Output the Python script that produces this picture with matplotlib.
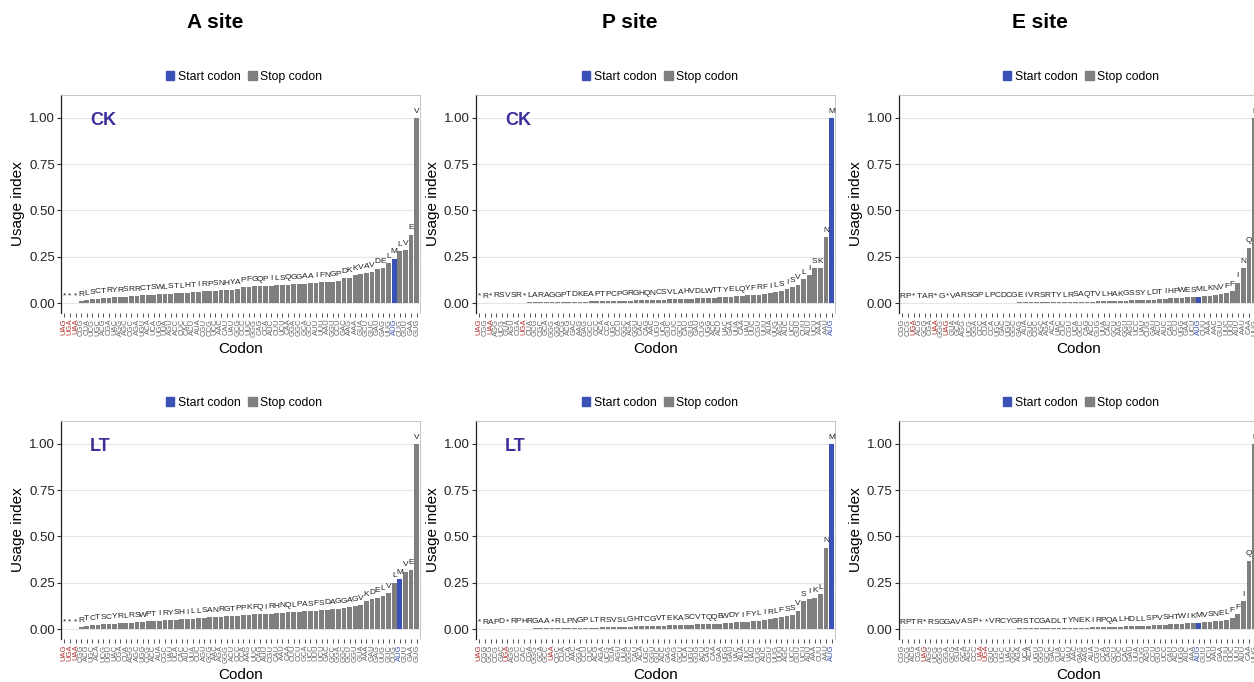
import matplotlib
matplotlib.use("Agg")
import matplotlib.pyplot as plt
from matplotlib.patches import Patch

plt.rcParams['font.family'] = ['Liberation Sans', 'DejaVu Sans']

# ---- data: amino acid, codon and usage index for each panel (sorted as in the figure)
aa_a_ck = list("***RLSCTRYRSRRCTSWLSTLHTIRPSNHYAPFGQPILSQGGAAIFNGPDKKVAVDELMLVEV")
codon_a_ck = ["UAG", "UGA", "UAA", "CGG", "CUA", "UCG", "UGC", "ACG", "CGA", "UAC", "AGG", "AGC", "CGC", "AGA", "UGU", "ACA",
              "UCA", "UGG", "UUA", "AGU", "ACC", "CUC", "CAC", "ACU", "AUA", "CGU", "CCG", "UCC", "AAC", "CAU", "UAU", "GCG",
              "CCC", "UUC", "GGG", "CAG", "CCA", "AUC", "CUU", "UCU", "CAA", "GGA", "GGC", "GCA", "GCC", "AUU", "UUU", "AAU",
              "GGU", "CCU", "GAC", "AAG", "AAA", "GUA", "GCU", "GUC", "GAU", "GAG", "UUG", "AUG", "CUG", "GUU", "GAA", "GUG"]
usage_a_ck = [0, 0, 0,
              .010, .016, .020, .023, .026, .029, .031, .033, .035, .037, .039, .041, .043, .045, .047, .049, .051,
              .053, .055, .057, .059, .061, .063, .065, .067, .069, .071, .073, .076,
              .086, .088, .090, .091, .092, .094, .096, .098, .100, .101, .102, .104, .106, .110, .112, .114, .116,
              .118, .135, .138, .150, .155, .160, .168, .185, .190,
              .215, .240, .280, .285, .370, 1.0]

aa_p_ck = list("*R*RSVSR*LARAGGPTDKEAPTPCPGRGHQNCSVLAHVDLWTTYELQYFRFILSISVLISKNM")
codon_p_ck = ["UAG", "CGG", "UAA", "AGG", "UCG", "GUA", "AGU", "CGA", "UGA", "CUA", "GCG", "CGC", "GCA", "GGG", "GGA", "CCG",
              "ACG", "GAC", "AAG", "GAG", "GCC", "CCC", "ACA", "CCA", "UGC", "CCU", "GGC", "AGA", "GGU", "CAC", "CAG", "AAC",
              "UGU", "UCA", "GUC", "CUC", "GCU", "CAU", "GUG", "GAU", "CUG", "UGG", "ACC", "ACU", "UAC", "GAA", "UUA", "CAA",
              "UAU", "UUC", "CGU", "UUU", "AUA", "UUG", "AGC", "AUC", "UCC", "GUU", "CUU", "AUU", "UCU", "AAA", "AAU", "AUG"]
usage_p_ck = [0, .001, .001, .002, .002, .002, .002, .003, .003,
              .004, .004, .005, .005, .005, .006, .006, .007, .007, .008, .008, .009, .009, .010, .010, .011,
              .012, .013, .013, .014, .015, .016, .017, .018, .019, .020, .021, .022, .023, .024, .025,
              .027, .028, .030, .031, .033, .035, .037, .039, .041, .043, .046, .049,
              .055, .060, .065, .075, .085, .100, .130, .150, .190, .190,
              .355, 1.0]

aa_e_ck = list("RP*TAR*G*VARSGPLPCDCGEIVRSRTYLRSAQTVLHAKGSSYLDTIHPWESMLKNVFFINQL")
codon_e_ck = ["CGG", "CCG", "UGA", "ACG", "GCG", "CGA", "UAA", "GGG", "UAG", "GUA", "GCA", "AGG", "UCG", "GGA", "CCC", "CUA",
              "CCA", "UGC", "GAC", "UGU", "GGC", "GAG", "AUA", "GUC", "CGC", "AGC", "AGA", "ACA", "UAC", "CUC", "CGU", "UCA",
              "GCC", "CAG", "ACC", "GUG", "UUA", "CAC", "GCU", "AAG", "GGU", "AGU", "UCC", "UAU", "CUG", "GAU", "ACU", "AUC",
              "CAU", "CCU", "UGG", "GAA", "UCU", "AUG", "CUU", "AAA", "AAC", "GUU", "UUC", "UUU", "AUU", "AAU", "CAA", "UUG"]
usage_e_ck = [0, 0, 0, .001, .001, .001, .001, .001, .001, .001, .002, .002, .002, .002, .002, .002, .003, .003, .003, .003,
              .003, .004, .004, .004, .004, .005, .005, .005, .006, .006,
              .006, .007, .007, .008, .008, .009, .009, .010, .011, .012, .013, .014, .015, .016, .017,
              .019, .021, .023, .025, .027, .029, .031, .033,
              .035, .038, .040, .043, .047, .055, .065, .110, .190, .300, 1.0]

aa_a_lt = list("***RTCTSCYRLRSWPTIRYSHILLSANRGTPPKFQIRHNQLPASFSDAGGAGVKDELVLMVEV")
codon_a_lt = ["UAG", "UGA", "UAA", "CGG", "ACG", "UGC", "ACA", "UCG", "UGU", "UAC", "CGA", "CUA", "AGG", "AGC", "UGG", "CCG",
              "ACC", "AUA", "CGC", "UAU", "UCA", "CAC", "AUC", "UUA", "CUC", "AGU", "GCG", "AAC", "AGA", "GGG", "ACU", "CCC",
              "CCA", "AAG", "UUC", "CAG", "AUU", "CGU", "CAU", "AAU", "CAA", "CUU", "CCU", "GCA", "UCC", "UUU", "UCU", "GAC",
              "GCC", "GGA", "GGC", "GCU", "GGU", "GUA", "AAA", "GAU", "GAG", "UUG", "GUC", "CUG", "AUG", "GUU", "GAA", "GUG"]
usage_a_lt = [0, 0, 0,
              .012, .018, .021, .023, .025, .027, .029, .031, .033, .035, .037, .039, .041, .043, .045, .047, .049,
              .051, .053, .055, .057, .059, .061, .063, .065, .067, .069, .071, .073,
              .075, .077, .079, .080, .082, .084, .086, .088, .090, .092, .094, .096, .098, .100, .102, .104, .107,
              .110, .114, .118, .122, .128, .150, .160, .170, .180, .195,
              .250, .270, .310, .320, 1.0]

aa_p_lt = list("*RAPD*RPHRGAA*RLPNGPLTRSVSLGHTCGVTEKASCVTQQEWDYIFYLIRLFSSVSIKLNM")
codon_p_lt = ["UAG", "CGG", "GCG", "CCG", "GAC", "UGA", "AGG", "CCC", "CAC", "CGA", "GGG", "GCA", "GCC", "UAA", "CGC", "CUA",
              "CCA", "AAC", "GGA", "CCU", "CUC", "ACG", "AGA", "UCG", "GUA", "AGU", "UUA", "GGC", "CAU", "ACA", "UGC", "GGU",
              "GUC", "ACC", "GAG", "AAG", "GCU", "UCA", "UGU", "GUG", "ACU", "CAG", "CAA", "GAA", "UGG", "GAU", "UAC", "AUA",
              "UUC", "UAU", "CUG", "AUC", "CGU", "UUG", "UUU", "AGC", "UCC", "GUU", "UCU", "AUU", "AAA", "CUU", "AAU", "AUG"]
usage_p_lt = [0, .001, .001, .001, .002, .002, .002, .003, .003, .003, .004, .004, .004, .004,
              .005, .005, .006, .006, .007, .007, .008, .008, .009, .009, .010, .011, .012, .013, .014, .015, .016, .017,
              .018, .019, .020, .021, .022, .023, .024, .025, .026, .027, .028, .030, .032, .034, .036, .038, .040, .043,
              .046, .050, .055, .060, .065, .070, .075, .100, .150, .165, .170, .190,
              .440, 1.0]

aa_e_lt = list("RPTR*RSGGAVASP**VRCYGRSTCGADLTYNEKIRPQALHDLLSPVSHTWIKMVSNELFFIQL")
codon_e_lt = ["CGG", "CCG", "ACG", "CGA", "UAG", "AGG", "UCG", "GGG", "GGA", "GCG", "GUA", "GCA", "AGC", "CCC", "UAA", "UGA",
              "GUC", "CGC", "UGC", "UAC", "GGC", "AGA", "UCA", "ACA", "UGU", "GGU", "GCC", "GAC", "CUA", "ACC", "UAU", "AAC",
              "GAG", "AAG", "AUA", "CGU", "CCA", "CAG", "GCU", "CUC", "CAC", "GAU", "UUA", "CUG", "AGU", "CCU", "GUG", "UCC",
              "CAU", "ACU", "UGG", "AUC", "AAA", "AUG", "GUU", "UCU", "AAU", "GAA", "CUU", "UUC", "UUU", "AUU", "CAA", "UUG"]
usage_e_lt = [0, 0, 0, 0, 0, .001, .001, .001, .001, .001, .001, .002, .002, .002, .002, .002, .003, .003, .003, .003,
              .003, .004, .004, .004, .004, .005, .005, .005,
              .006, .006, .007, .007, .008, .008, .009, .009, .010, .011, .012, .013, .014, .015, .016, .017, .018,
              .020, .022, .024, .026, .028, .030, .032, .033,
              .035, .038, .040, .043, .046, .050, .062, .080, .150, .370, 1.0]

sites = ["A site", "P site", "E site"]
panels = [
    [("CK", aa_a_ck, codon_a_ck, usage_a_ck), ("CK", aa_p_ck, codon_p_ck, usage_p_ck), ("", aa_e_ck, codon_e_ck, usage_e_ck)],
    [("LT", aa_a_lt, codon_a_lt, usage_a_lt), ("LT", aa_p_lt, codon_p_lt, usage_p_lt), ("", aa_e_lt, codon_e_lt, usage_e_lt)],
]

# ---- styling / layout (pixel boxes of the panels)
W, H = 1254, 682
col_x = [(61, 420), (476, 835), (899, 1258)]
row_y = [(95, 313), (421, 639)]
legend_cx = [244, 660, 1081]
title_cx = [215, 630, 1040]
grey = "#7f7f7f"
blue = "#3a52b6"
red = "#b3322e"
label_col = "#3b2f9c"

fig = plt.figure(figsize=(W / 100, H / 100), dpi=100)

for r, row in enumerate(panels):
    for c, (cond, aa, codons, usage) in enumerate(row):
        x0, x1 = col_x[c]
        y0, y1 = row_y[r]
        ax = fig.add_axes([x0 / W, 1 - y1 / H, (x1 - x0) / W, (y1 - y0) / H])
        pos = list(range(1, len(usage) + 1))
        colors = [blue if cd == "AUG" else grey for cd in codons]
        ax.bar(pos, usage, width=0.85, color=colors, zorder=2)
        for p, v, a in zip(pos, usage, aa):
            ax.text(p, v + 0.018, a, ha="center", va="bottom", fontsize=6.0, color="#222222", zorder=3)
        ax.set_xlim(0.4, len(usage) + 0.6)
        ax.set_ylim(-0.0535, 1.1235)
        ax.set_yticks([0, 0.25, 0.5, 0.75, 1.0])
        ax.set_yticklabels(["0.00", "0.25", "0.50", "0.75", "1.00"], fontsize=9.5, color="#222222")
        ax.set_xticks(pos)
        ax.set_xticklabels(codons, rotation=90, fontsize=5.5)
        for t, cd in zip(ax.get_xticklabels(), codons):
            if cd in ("UAA", "UAG", "UGA"):
                t.set_color(red)
            elif cd == "AUG":
                t.set_color(blue)
            else:
                t.set_color("#666666")
        ax.tick_params(axis="x", length=3, width=0.6, pad=1, color="#333333")
        ax.tick_params(axis="y", length=3, width=0.8, pad=1.5, color="#333333")
        ax.grid(axis="y", color="#e6e6e6", lw=0.8, zorder=0)
        ax.set_axisbelow(True)
        for s in ["top", "right"]:
            ax.spines[s].set_color("#bbbbbb")
            ax.spines[s].set_linewidth(0.6)
        ax.spines["bottom"].set_visible(False)
        ax.spines["left"].set_color("#222222")
        ax.spines["left"].set_linewidth(0.9)
        ax.set_xlabel("Codon", fontsize=11, labelpad=4)
        ax.set_ylabel("Usage index", fontsize=11, labelpad=3)
        if cond:
            ax.text(0.081, 0.885, cond, transform=ax.transAxes, ha="left", va="center",
                    fontsize=13, fontweight="bold", color=label_col)
        handles = [Patch(color=blue, label="Start codon"), Patch(color=grey, label="Stop codon")]
        cy = 77 if r == 0 else 403
        fig.legend(handles=handles, loc="center", bbox_to_anchor=(legend_cx[c] / W, 1 - cy / H),
                   ncol=2, frameon=False, fontsize=8.8, handlelength=0.7, handleheight=0.7,
                   handletextpad=0.3, columnspacing=0.6, borderaxespad=0)

for c, s in enumerate(sites):
    fig.text(title_cx[c] / W, 1 - 22 / H, s, ha="center", va="center", fontsize=15, fontweight="bold")

fig.savefig("out.png", dpi=100)
